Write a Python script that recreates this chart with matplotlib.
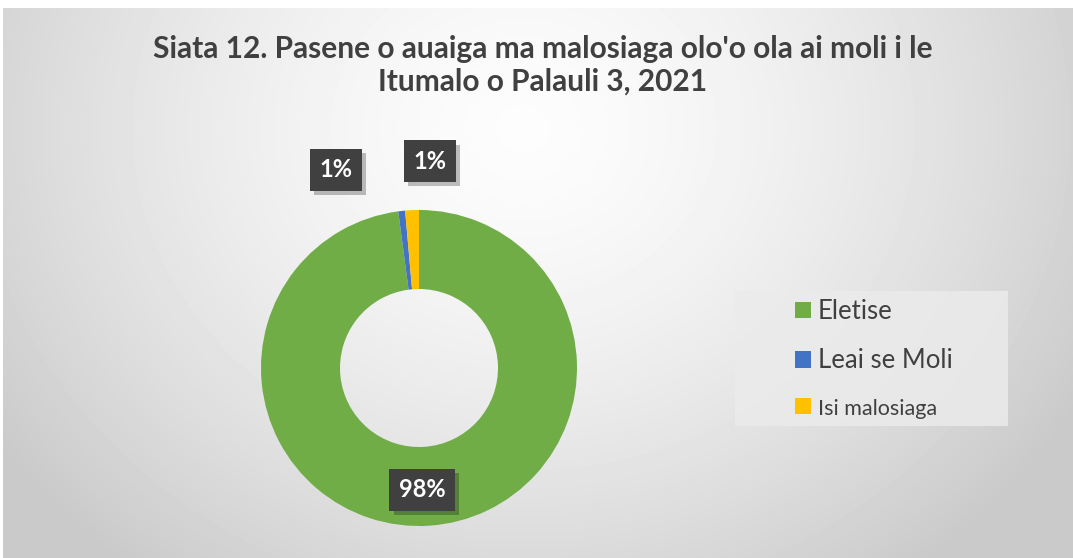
import numpy as np
import matplotlib.pyplot as plt
import matplotlib.patheffects as pe
from matplotlib.patches import Rectangle

# data
categories = ["Eletise", "Leai se Moli", "Isi malosiaga"]
values = [97.9, 0.7, 1.4]
label_texts = ["98%", "1%", "1%"]
colors = ["#70ad47", "#4472c4", "#ffc000"]
legend_sizes = [18.5, 18.5, 15.5]

title = "Siata 12. Pasene o auaiga ma malosiaga olo'o ola ai moli i le\nItumalo o Palauli 3, 2021"

W, H = 1073, 558
fig = plt.figure(figsize=(W / 100, H / 100), dpi=100)
fig.patch.set_facecolor("white")

# radial gradient background
bg = fig.add_axes([3 / W, 0, 1 - 3 / W, 1 - 8 / H], zorder=0)
yy, xx = np.mgrid[0:550, 0:1070]
r = np.sqrt(((xx - 520) / 640.0) ** 2 + ((yy - 120) / 560.0) ** 2)
shade = 0.99 - 0.2 * np.clip(r, 0, 1) ** 1.5
bg.imshow(shade, cmap="gray", vmin=0, vmax=1, aspect="auto", interpolation="bilinear")
bg.set_axis_off()

fig.text(0.5 + 6 / W, 1 - 65 / H, title, ha="center", va="center", fontsize=21.5,
         fontweight="bold", color="#404040", family="Lato", linespacing=1.2)

# donut
cx, cy, rad = 419, 368, 158
ax = fig.add_axes([(cx - rad) / W, 1 - (cy + rad) / H, 2 * rad / W, 2 * rad / H], zorder=2)
wedges, _ = ax.pie(values, colors=colors, startangle=90, counterclock=False,
                   radius=1, wedgeprops=dict(width=0.5, linewidth=0))
ax.set_xlim(-1, 1)
ax.set_ylim(-1, 1)
ax.set_aspect("equal")
ax.set_axis_off()

# label placement (angle in deg, radius) as Excel placed them
label_pos = [(-88.5, 0.77), (112.7, 1.36), (87.0, 1.31)]
for txt, (ang, rr) in zip(label_texts, label_pos):
    a = np.deg2rad(ang)
    t = ax.text(rr * np.cos(a), rr * np.sin(a), txt, ha="center", va="center",
                fontsize=17, fontweight="bold", color="white", family="Lato",
                bbox=dict(boxstyle="square,pad=0.4", fc="#404040", ec="none"),
                clip_on=False, zorder=5)
    t.get_bbox_patch().set_path_effects(
        [pe.withSimplePatchShadow(offset=(3, -3), shadow_rgbFace="black", alpha=0.25), pe.Normal()])

# legend
fig.patches.append(Rectangle((735 / W, 1 - 426 / H), 273 / W, 135 / H,
                             transform=fig.transFigure, fc="#ebebeb", ec="none",
                             alpha=0.85, zorder=1))
leg = fig.legend(wedges, categories, loc="center left",
                 bbox_to_anchor=(795 / W, 1 - 359 / H), frameon=False,
                 handlelength=0.62, handleheight=0.62, handletextpad=0.28,
                 labelspacing=0.95, fontsize=18.5, borderpad=0, borderaxespad=0)
for t, s in zip(leg.get_texts(), legend_sizes):
    t.set_fontsize(s)
    t.set_color("#404040")
    t.set_family("Lato")

fig.savefig("out.png", dpi=100)
